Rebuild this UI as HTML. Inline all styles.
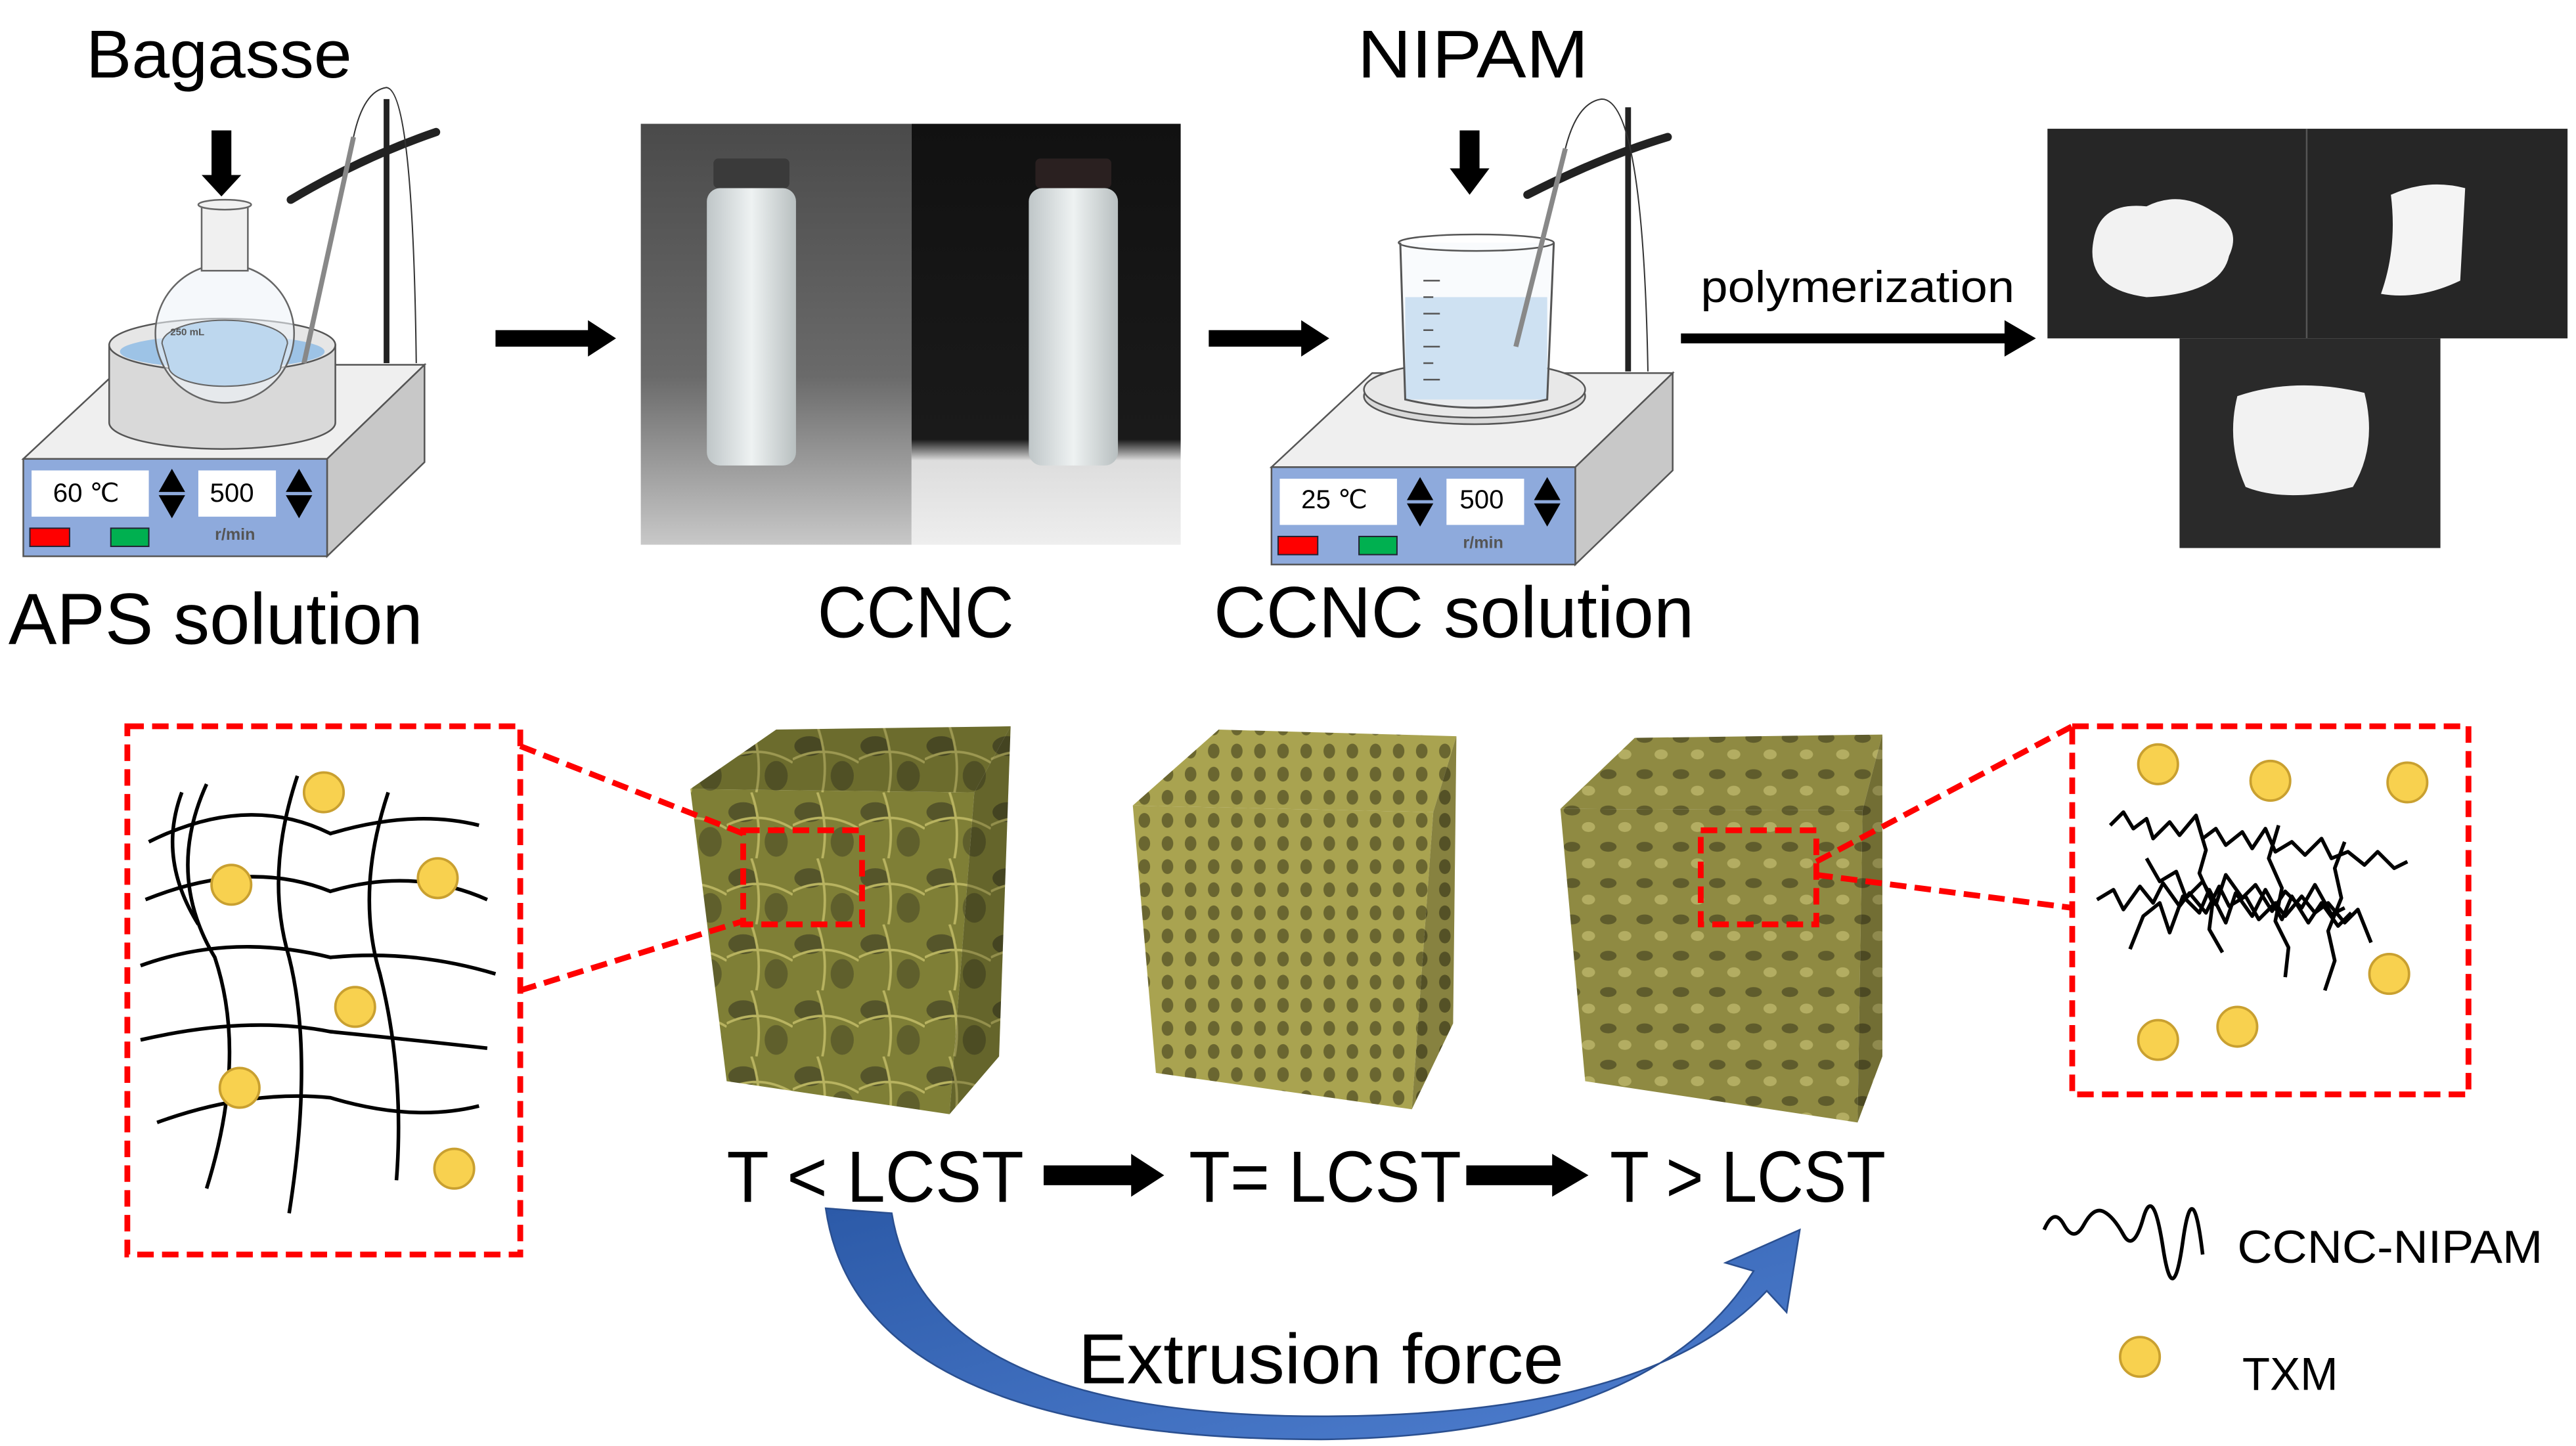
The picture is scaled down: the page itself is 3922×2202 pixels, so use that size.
<!DOCTYPE html>
<html><head><meta charset="utf-8"><style>html,body{margin:0;padding:0;background:#fff}svg{display:block}</style></head>
<body>
<svg width="3922" height="2202" viewBox="0 0 1560 876" xmlns="http://www.w3.org/2000/svg" font-family="Liberation Sans, sans-serif">
<defs>
<linearGradient id="gl" x1="0" y1="0" x2="0" y2="1"><stop offset="0" stop-color="#4a4a4a"/><stop offset="0.6" stop-color="#6a6a6a"/><stop offset="1" stop-color="#c8c8c8"/></linearGradient>
<linearGradient id="gr" x1="0" y1="0" x2="0" y2="1"><stop offset="0" stop-color="#111"/><stop offset="0.75" stop-color="#1a1a1a"/><stop offset="0.8" stop-color="#ddd"/><stop offset="1" stop-color="#eee"/></linearGradient>
<linearGradient id="vial" x1="0" y1="0" x2="1" y2="0"><stop offset="0" stop-color="#bfc6c8"/><stop offset="0.5" stop-color="#eef2f2"/><stop offset="1" stop-color="#b8bfc0"/></linearGradient>
<linearGradient id="blue" x1="0" y1="0" x2="1" y2="1"><stop offset="0" stop-color="#2c5aa8"/><stop offset="1" stop-color="#4f7fd0"/></linearGradient>
<pattern id="tex1" width="40" height="40" patternUnits="userSpaceOnUse"><rect width="40" height="40" fill="#7f7f36"/><ellipse cx="10" cy="12" rx="9" ry="6" fill="#55552a"/><ellipse cx="30" cy="30" rx="7" ry="9" fill="#5f5f2c"/><path d="M0 20 Q20 10 40 22 M15 0 Q22 20 18 40" stroke="#b8b360" stroke-width="1.5" fill="none"/></pattern>
<pattern id="tex2" width="14" height="14" patternUnits="userSpaceOnUse"><rect width="14" height="14" fill="#a9a350"/><ellipse cx="7" cy="7" rx="3.5" ry="4.5" fill="#6a6630"/></pattern>
<pattern id="tex3" width="22" height="22" patternUnits="userSpaceOnUse"><rect width="22" height="22" fill="#8f8a42"/><ellipse cx="6" cy="7" rx="5" ry="3" fill="#5f5c2c"/><ellipse cx="16" cy="17" rx="4" ry="3" fill="#b3ad62"/></pattern>
<g id="plate">
<polygon points="14,278 75,221 257,221 198,278" fill="#efefef" stroke="#555" stroke-width="1"/>
<polygon points="198,278 257,221 257,280 198,337" fill="#c8c8c8" stroke="#555" stroke-width="1"/>
<rect x="14" y="278" width="184" height="59" fill="#8eaadc" stroke="#555" stroke-width="1"/>
<rect x="19" y="285" width="71" height="28" fill="#fff"/>
<rect x="120" y="285" width="47" height="28" fill="#fff"/>
<polygon points="104,284 112,298 96,298" fill="#000"/><polygon points="104,314 112,300 96,300" fill="#000"/>
<polygon points="181,284 189,298 173,298" fill="#000"/><polygon points="181,314 189,300 173,300" fill="#000"/>
<rect x="18" y="320" width="24" height="11" fill="#f00" stroke="#223" stroke-width="0.8"/>
<rect x="67" y="320" width="23" height="11" fill="#00b050" stroke="#223" stroke-width="0.8"/>
<text x="130" y="327" font-size="10" font-weight="bold" fill="#555">r/min</text>
</g>
</defs>

<text x="52" y="47" font-size="41" textLength="161" lengthAdjust="spacingAndGlyphs">Bagasse</text>
<text x="822" y="47" font-size="41" textLength="140" lengthAdjust="spacingAndGlyphs">NIPAM</text>
<text x="5" y="390" font-size="44" textLength="251" lengthAdjust="spacingAndGlyphs">APS solution</text>
<text x="495" y="386" font-size="44" textLength="119" lengthAdjust="spacingAndGlyphs">CCNC</text>
<text x="735" y="386" font-size="44" textLength="291" lengthAdjust="spacingAndGlyphs">CCNC solution</text>
<text x="1030" y="183" font-size="27" textLength="190" lengthAdjust="spacingAndGlyphs">polymerization</text>

<use href="#plate"/>
<text x="32" y="304" font-size="16">60 ℃</text>
<text x="127" y="304" font-size="16">500</text>
<path d="M66 209 L66 256 A68.5 16 0 0 0 203 256 L203 209 Z" fill="#d9d9d9" stroke="#555"/>
<ellipse cx="134.5" cy="209" rx="68.5" ry="16" fill="#e6e6e6" stroke="#555"/>
<ellipse cx="134.5" cy="213" rx="62" ry="10" fill="#9dc3e6"/>
<circle cx="136" cy="202" r="42" fill="#eef3f8" fill-opacity="0.6" stroke="#666"/>
<path d="M98 208 A38 14 0 0 1 174 208 L170 222 A34 12 0 0 1 102 222 Z" fill="#bdd7ee" stroke="#666" stroke-width="0.8"/>
<rect x="122" y="124" width="28" height="40" fill="#f0f0f0" stroke="#666"/>
<ellipse cx="136" cy="124" rx="16" ry="3" fill="#f0f0f0" stroke="#666"/>
<text x="103" y="203" font-size="6" font-weight="bold" fill="#555">250 mL</text>
<rect x="128" y="79" width="12" height="28" fill="#000"/><polygon points="122,106 146,106 134,119" fill="#000"/>
<line x1="234" y1="60" x2="234" y2="220" stroke="#222" stroke-width="3.5"/>
<path d="M176 121 Q220 95 264 80" stroke="#222" stroke-width="5" stroke-linecap="round" fill="none"/>
<line x1="214" y1="83" x2="184" y2="220" stroke="#888" stroke-width="3"/>
<path d="M214 83 Q220 55 234 53 Q250 55 252 220" stroke="#333" stroke-width="0.8" fill="none"/>

<rect x="300" y="200" width="58" height="10" fill="#000"/><polygon points="356,194 373,205 356,216" fill="#000"/>
<rect x="732" y="200" width="58" height="10" fill="#000"/><polygon points="788,194 805,205 788,216" fill="#000"/>
<rect x="1018" y="202" width="198" height="6" fill="#000"/><polygon points="1214,194 1233,205 1214,216" fill="#000"/>

<rect x="388" y="75" width="164" height="255" fill="url(#gl)"/>
<rect x="552" y="75" width="163" height="255" fill="url(#gr)"/>
<rect x="432" y="96" width="46" height="18" rx="3" fill="#3a3a3a"/>
<rect x="428" y="114" width="54" height="168" rx="8" fill="url(#vial)"/>
<rect x="627" y="96" width="46" height="18" rx="3" fill="#2a2020"/>
<rect x="623" y="114" width="54" height="168" rx="8" fill="url(#vial)"/>

<use href="#plate" transform="translate(756,5)"/>
<text x="788" y="308" font-size="16">25 ℃</text>
<text x="884" y="308" font-size="16">500</text>
<ellipse cx="893" cy="240" rx="67" ry="17" fill="#d9d9d9" stroke="#555"/>
<ellipse cx="893" cy="236" rx="67" ry="17" fill="#e8e8e8" stroke="#555"/>
<rect x="851" y="180" width="86" height="62" fill="#bdd7ee"/>
<path d="M848 147 L851 242 Q893 252 937 242 L941 147" fill="#eef4fa" fill-opacity="0.35" stroke="#555" stroke-width="1.2"/>
<ellipse cx="894" cy="147" rx="47" ry="5" fill="none" stroke="#555"/>
<g stroke="#555" stroke-width="1"><line x1="862" y1="170" x2="872" y2="170"/><line x1="862" y1="180" x2="868" y2="180"/><line x1="862" y1="190" x2="872" y2="190"/><line x1="862" y1="200" x2="868" y2="200"/><line x1="862" y1="210" x2="872" y2="210"/><line x1="862" y1="220" x2="868" y2="220"/><line x1="862" y1="230" x2="872" y2="230"/></g>
<rect x="884" y="79" width="12" height="24" fill="#000"/><polygon points="878,102 902,102 890,118" fill="#000"/>
<line x1="986" y1="65" x2="986" y2="225" stroke="#222" stroke-width="3.5"/>
<path d="M925 118 Q970 95 1010 83" stroke="#222" stroke-width="5" stroke-linecap="round" fill="none"/>
<line x1="948" y1="90" x2="918" y2="210" stroke="#888" stroke-width="3"/>
<path d="M948 90 Q955 62 970 60 Q995 60 998 225" stroke="#333" stroke-width="0.8" fill="none"/>

<rect x="1240" y="78" width="315" height="127" fill="#262626"/>
<line x1="1397" y1="78" x2="1397" y2="205" stroke="#555"/>
<rect x="1320" y="205" width="158" height="127" fill="#2a2a2a"/>
<path d="M1268 145 Q1272 122 1300 125 Q1320 115 1340 128 Q1358 138 1350 155 Q1345 178 1300 180 Q1262 175 1268 145Z" fill="#f2f2f2"/>
<path d="M1448 118 Q1470 108 1493 114 L1490 170 Q1465 182 1442 178 Q1452 150 1448 118Z" fill="#f4f4f4"/>
<path d="M1355 240 Q1390 228 1432 238 Q1440 270 1425 295 Q1385 305 1360 295 Q1348 268 1355 240Z" fill="#f2f2f2"/>

<polygon points="418,478 470,442 612,440 590,480" fill="url(#tex1)"/>
<polygon points="418,478 470,442 612,440 590,480" fill="#000" fill-opacity="0.15"/>
<polygon points="418,478 590,480 575,675 440,655" fill="url(#tex1)"/>
<polygon points="590,480 612,440 605,640 575,675" fill="url(#tex1)"/>
<polygon points="590,480 612,440 605,640 575,675" fill="#000" fill-opacity="0.2"/>

<polygon points="686,488 738,442 882,446 868,492" fill="url(#tex2)"/>
<polygon points="686,488 868,492 855,672 700,650" fill="url(#tex2)"/>
<polygon points="868,492 882,446 880,620 855,672" fill="url(#tex2)"/>
<polygon points="868,492 882,446 880,620 855,672" fill="#000" fill-opacity="0.2"/>

<polygon points="945,490 990,447 1140,445 1128,491" fill="url(#tex3)"/>
<polygon points="945,490 1128,491 1125,680 960,655" fill="url(#tex3)"/>
<polygon points="1128,491 1140,445 1140,640 1125,680" fill="url(#tex3)"/>
<polygon points="1128,491 1140,445 1140,640 1125,680" fill="#000" fill-opacity="0.2"/>

<g stroke="#f00" stroke-width="3.5" stroke-dasharray="10,5" fill="none">
<rect x="77" y="440" width="238" height="320"/>
<rect x="450" y="503" width="72" height="57"/>
<rect x="1030" y="503" width="70" height="57"/>
<rect x="1255" y="440" width="240" height="223"/>
<line x1="315" y1="452" x2="450" y2="505"/>
<line x1="315" y1="600" x2="450" y2="558"/>
<line x1="1100" y1="522" x2="1255" y2="440"/>
<line x1="1100" y1="530" x2="1255" y2="550"/>
</g>

<g stroke="#000" stroke-width="2.2" fill="none">
<path d="M90 510 Q150 480 200 505 Q250 490 290 500"/>
<path d="M88 545 Q150 520 200 540 Q250 525 295 545"/>
<path d="M85 585 Q140 565 200 580 Q250 575 300 590"/>
<path d="M85 630 Q150 615 200 625 Q250 630 295 635"/>
<path d="M95 680 Q150 660 200 665 Q250 680 290 670"/>
<path d="M125 475 Q100 530 130 580 Q150 640 125 720"/>
<path d="M180 470 Q160 530 175 580 Q190 640 175 735"/>
<path d="M235 480 Q215 540 230 590 Q245 650 240 715"/>
<path d="M110 480 Q95 520 120 560"/>
</g>
<g fill="#f8d14f" stroke="#c9a030" stroke-width="1.5">
<circle cx="196" cy="480" r="12"/><circle cx="140" cy="536" r="12"/><circle cx="265" cy="532" r="12"/><circle cx="215" cy="610" r="12"/><circle cx="145" cy="659" r="12"/><circle cx="275" cy="708" r="12"/>
<circle cx="1307" cy="463" r="12"/><circle cx="1375" cy="473" r="12"/><circle cx="1458" cy="474" r="12"/><circle cx="1447" cy="590" r="12"/><circle cx="1307" cy="630" r="12"/><circle cx="1355" cy="622" r="12"/>
<circle cx="1296" cy="822" r="12"/>
</g>
<g stroke="#000" stroke-width="2.2" fill="none" stroke-linejoin="round">
<path d="M1278 500 l8 -8 l6 10 l8 -6 l4 12 l10 -10 l6 8 l10 -12 l4 14 l8 -6 l6 10 l10 -8 l6 10 l8 -12 l6 14 l10 -6 l8 8 l10 -10 l6 12 l10 -4 l10 8 l8 -8 l10 10 l8 -4"/>
<path d="M1270 545 l10 -6 l6 12 l10 -14 l8 10 l6 -12 l10 14 l6 -8 l10 12 l8 -16 l6 12 l10 -6 l8 14 l10 -10 l6 8 l10 -12 l8 10 l8 -6 l10 12 l8 -8 l8 20"/>
<path d="M1290 575 l8 -20 l10 -8 l6 18 l8 -22 l10 10 l6 -14 l10 20 l6 -18 l10 14 l8 -16 l10 18 l6 -14 l10 16 l8 -12 l10 14 l8 -8"/>
<path d="M1300 520 l8 14 l10 -6 l6 16 l10 -10 l8 14 l6 -18 l10 14 l8 -8 l10 16 l8 -12 l10 10 l8 -14 l10 18 l8 -4"/>
<path d="M1330 495 l6 20 l-4 14 l8 18 l-2 16 l8 14 M1380 500 l-6 20 l8 18 l-4 20 l8 16 l-2 18 M1420 510 l-6 16 l4 18 l-8 20 l4 18 l-6 18"/>
<path d="M1238 745 q6 -14 12 -3 t12 0 t12 -8 t12 14 t12 -10 t12 18 t12 -4 t12 8"/>
</g>

<text x="440" y="728" font-size="44" textLength="180" lengthAdjust="spacingAndGlyphs">T &lt;  LCST</text>
<text x="720" y="728" font-size="44" textLength="165" lengthAdjust="spacingAndGlyphs">T= LCST</text>
<text x="975" y="728" font-size="44" textLength="167" lengthAdjust="spacingAndGlyphs">T &gt; LCST</text>
<rect x="632" y="706" width="55" height="12" fill="#000"/><polygon points="685,699 705,712 685,725" fill="#000"/>
<rect x="888" y="706" width="54" height="12" fill="#000"/><polygon points="940,699 962,712 940,725" fill="#000"/>
<path d="M500 732 Q520 872 800 872 Q1000 870 1062 770 L1045 765 L1090 745 L1082 795 L1070 782 Q1000 858 800 858 Q560 858 540 735 Z" fill="url(#blue)" stroke="#2a4f90" stroke-width="1"/>
<text x="653" y="838" font-size="43" textLength="294" lengthAdjust="spacingAndGlyphs">Extrusion force</text>
<text x="1355" y="765" font-size="28" textLength="185" lengthAdjust="spacingAndGlyphs">CCNC-NIPAM</text>
<text x="1358" y="842" font-size="28" textLength="58" lengthAdjust="spacingAndGlyphs">TXM</text>
</svg>
</body></html>
